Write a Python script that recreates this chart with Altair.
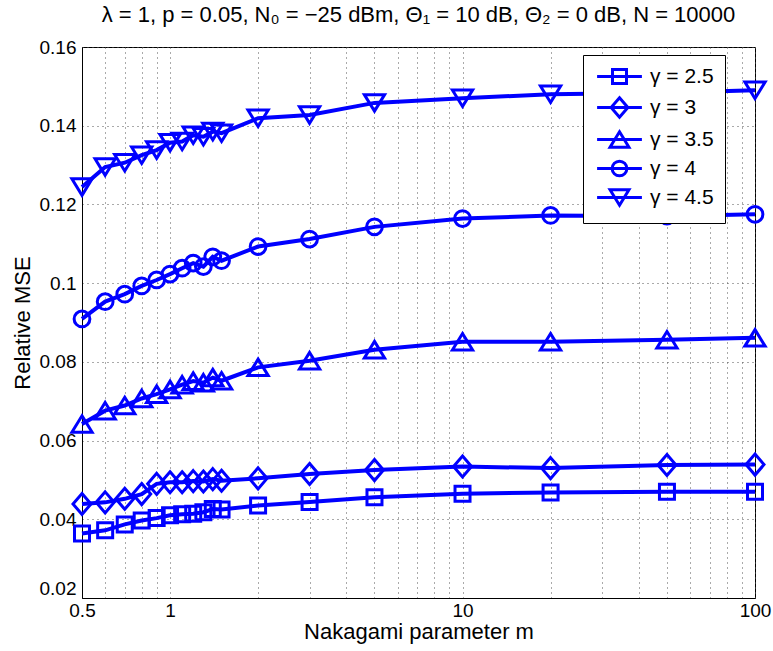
import altair as alt
import pandas as pd

m_values = [0.5, 0.6, 0.7, 0.8, 0.9, 1.0, 1.1, 1.2, 1.3, 1.4, 1.5, 2, 3, 5, 10, 20, 50, 100]

mse_g25 = [0.0364, 0.0372, 0.0387, 0.0397, 0.0403, 0.0410, 0.0413, 0.0414, 0.0418, 0.0426, 0.0425,
           0.0435, 0.0444, 0.0456, 0.0465, 0.0468, 0.0470, 0.0470]
mse_g3 = [0.0439, 0.0443, 0.0452, 0.0464, 0.0490, 0.0494, 0.0494, 0.0497, 0.0496, 0.0502, 0.0498,
          0.0504, 0.0515, 0.0525, 0.0534, 0.0530, 0.0538, 0.0539]
mse_g35 = [0.0642, 0.0676, 0.0689, 0.0707, 0.0718, 0.0730, 0.0742, 0.0751, 0.0747, 0.0760, 0.0752,
           0.0786, 0.0803, 0.0831, 0.0851, 0.0851, 0.0856, 0.0861]
mse_g4 = [0.0909, 0.0953, 0.0972, 0.0993, 0.1008, 0.1023, 0.1038, 0.1051, 0.1042, 0.1067, 0.1057,
          0.1093, 0.1112, 0.1143, 0.1164, 0.1172, 0.1170, 0.1175]
mse_g45 = [0.1244, 0.1295, 0.1306, 0.1325, 0.1338, 0.1357, 0.1360, 0.1376, 0.1372, 0.1385, 0.1381,
           0.1419, 0.1427, 0.1458, 0.1470, 0.1480, 0.1484, 0.1490]

series_names = ["γ = 2.5", "γ = 3", "γ = 3.5", "γ = 4", "γ = 4.5"]
series_values = [mse_g25, mse_g3, mse_g35, mse_g4, mse_g45]

# marker outlines (unit box paths), MATLAB-like: square, diamond, ^, o, v
marker_paths = [
    "M-1,-1H1V1H-1Z",
    "M0,-1.4L1.2,0L0,1.4L-1.2,0Z",
    "M0,-1.1L1.35,1.1H-1.35Z",
    "M-1.05,0A1.05,1.05,0,1,1,1.05,0A1.05,1.05,0,1,1,-1.05,0Z",
    "M0,1.1L1.35,-1.1H-1.35Z",
]
legend_line = "M-3.2,0H3.2"
legend_paths = [legend_line + p for p in marker_paths]

x_grid_values = [0.5, 0.6, 0.7, 0.8, 0.9, 1, 2, 3, 4, 5, 6, 7, 8, 9, 10,
                 20, 30, 40, 50, 60, 70, 80, 90, 100]
y_tick_values = [0.02, 0.04, 0.06, 0.08, 0.10, 0.12, 0.14, 0.16]

rows = []
for name, vals in zip(series_names, series_values):
    for m, v in zip(m_values, vals):
        rows.append({"m": m, "mse": v, "series": name})
df = pd.DataFrame(rows)

FONT = "Liberation Sans"
BLUE = "#0000FF"

x_enc = alt.X(
    "m:Q",
    scale=alt.Scale(type="log", domain=[0.5, 100], nice=False),
    axis=alt.Axis(
        values=x_grid_values,
        labelExpr="(datum.value == 0.5 || datum.value == 1 || datum.value == 10 || datum.value == 100) ? datum.label : ''",
        format="~g",
        title="Nakagami parameter m",
        grid=True,
        ticks=False,
        labelFlush=False,
        labelOverlap=False,
        labelPadding=3,
        titlePadding=1,
    ),
)
y_enc = alt.Y(
    "mse:Q",
    scale=alt.Scale(domain=[0.02, 0.16], nice=False, zero=False),
    axis=alt.Axis(
        values=y_tick_values,
        format=".2~f",
        title="Relative MSE",
        grid=True,
        ticks=False,
        labelPadding=6,
        titlePadding=5,
        labelBaseline={"condition": {"test": "datum.value <= 0.021", "value": "bottom"}, "value": "middle"},
    ),
)

lines = alt.Chart(df).mark_line(color=BLUE, strokeWidth=4).encode(
    x=x_enc, y=y_enc, detail="series:N"
)

points = alt.Chart(df).mark_point(
    filled=False, color=BLUE, strokeWidth=3, size=225, opacity=1
).encode(
    x=x_enc,
    y=y_enc,
    shape=alt.Shape(
        "series:N",
        scale=alt.Scale(domain=series_names, range=marker_paths),
        legend=None,
    ),
)

legend_layer = alt.Chart(df).mark_point(
    filled=False, color=BLUE, strokeWidth=3, size=196, opacity=0
).encode(
    x=x_enc,
    y=y_enc,
    shape=alt.Shape(
        "series:N",
        scale=alt.Scale(domain=series_names, range=legend_paths),
        legend=alt.Legend(
            title=None,
            orient="none",
            legendX=501,
            legendY=8,
            labelFontSize=21,
            labelFont=FONT,
            labelColor="#000000",
            symbolSize=196,
            symbolStrokeWidth=3,
            symbolStrokeColor=BLUE,
            symbolFillColor="white",
            symbolOpacity=1,
            symbolOffset=15,
            labelOffset=20,
            rowPadding=1,
            padding=11,
            strokeColor="#000000",
            fillColor="white",
            cornerRadius=0,
        ),
    ),
)

chart = (
    alt.layer(lines, points, legend_layer)
    .resolve_scale(shape="independent")
    .properties(
        width=673,
        height=551,
        background="white",
        autosize=alt.AutoSizeParams(type="none"),
        padding={"left": 82, "top": 47, "right": 18, "bottom": 53},
        title=alt.Title(
            "λ = 1, p = 0.05, N₀ = −25 dBm, Θ₁ = 10 dB, Θ₂ = 0 dB, N = 10000",
            fontSize=22,
            font=FONT,
            fontWeight="normal",
            color="#000000",
            anchor="middle",
            offset=11,
        ),
    )
    .configure_view(stroke="#000000", strokeWidth=1)
    .configure_axis(
        labelFont=FONT,
        titleFont=FONT,
        labelFontSize=19,
        titleFontSize=22,
        titleFontWeight="normal",
        labelColor="#000000",
        titleColor="#000000",
        domainColor="#000000",
        gridColor="#555555",
        gridDash=[1, 4],
        gridOpacity=1,
        gridWidth=1,
    )
)

chart.save("out.html", embed_options={"renderer": "svg", "actions": False})
